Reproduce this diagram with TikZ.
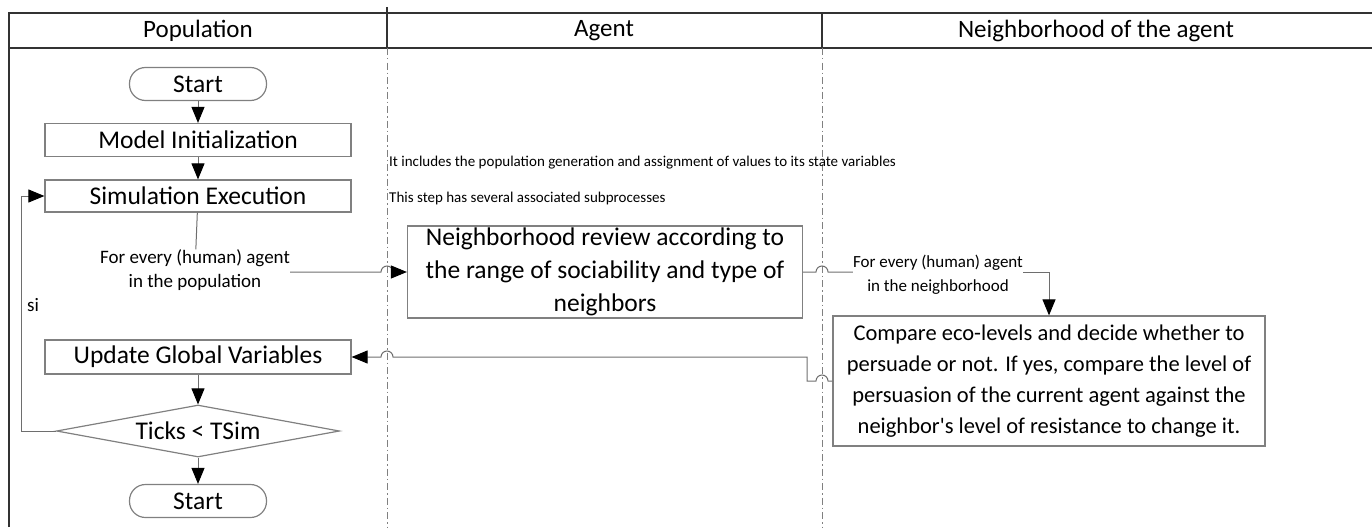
\documentclass[tikz,border=0pt]{standalone}
\usepackage{fontspec}
\setmainfont{Carlito}
\usetikzlibrary{shapes.geometric,arrows.meta}
\definecolor{boxgray}{RGB}{128,128,128}
\definecolor{linegray}{RGB}{110,110,110}
\definecolor{framegray}{RGB}{50,50,50}

\begin{document}
\begin{tikzpicture}[x=1pt,y=-1pt,
	frame/.style={draw=framegray,line width=1.8pt},
	divider/.style={draw=boxgray,line width=0.8pt,dash pattern=on 7pt off 3pt on 1.5pt off 3pt},
	lanehead/.style={font=\fontsize{25}{30}\selectfont},
	box/.style={draw=boxgray,line width=1.2pt,align=center,inner sep=2pt,font=\fontsize{25.5}{33}\selectfont},
	term/.style={box,rounded corners=16pt,minimum width=137pt,minimum height=33pt},
	note/.style={anchor=west,inner sep=0pt,font=\fontsize{15}{18}\selectfont},
	flow/.style={draw=linegray,line width=1pt,-{Triangle[length=16pt,width=13pt,color=black]}},
	hop/.style={insert path={arc[start angle=180,end angle=0,radius=6pt]}},
	hopleft/.style={insert path={arc[start angle=0,end angle=180,radius=6pt]}}]
\useasboundingbox (0,0) rectangle (1372,527);

%lanes
\draw[frame] (9,527) -- (9,13) -- (1372,13);
\draw[frame] (9,48) -- (1372,48);
\draw[frame] (387,7) -- (387,48);
\draw[frame] (822,13) -- (822,48);
\draw[divider] (387,48) -- (387,527);
\draw[divider] (822,48) -- (822,527);
\node[lanehead] (hpop) at (198,31) {Population};
\node[lanehead] (hagent) at (604,31) {Agent};
\node[lanehead] (hnb) at (1096,31) {Neighborhood of the agent};

%population lane
\node[term] (start) at (198,84) {Start};
\node[box,minimum width=306pt,minimum height=33pt] (init) at (198,140) {Model Initialization};
\node[box,minimum width=306pt,minimum height=32pt] (sim) at (198,196) {Simulation Execution};
\node[align=center,inner sep=0pt,font=\fontsize{19}{24}\selectfont] (forpop) at (195,270) {For every (human) agent\\in the population};
\node[box,minimum width=306pt,minimum height=34pt] (update) at (198,357) {Update Global Variables};
\node[box,diamond,aspect=5.4,minimum width=283pt,minimum height=52pt,inner sep=0pt] (ticks) at (198,431) {Ticks < TSim};
\node[term] (stop) at (198,501) {Start};
\node[inner sep=0pt,font=\fontsize{19}{24}\selectfont] (si) at (33,305) {si};

%notes
\node[note] (noteinit) at (389,163) {It includes the population generation and assignment of values to its state variables};
\node[note] (notesim) at (389,198) {This step has several associated subprocesses};

%agent and neighborhood lanes
\node[box,minimum width=395pt,minimum height=92pt] (review) at (605,272) {Neighborhood review according to\\the range of sociability and type of\\neighbors};
\node[align=center,inner sep=0pt,font=\fontsize{17}{24}\selectfont] (fornb) at (938,275) {For every (human) agent\\in the neighborhood};
\node[box,minimum width=432pt,minimum height=130pt,font=\fontsize{22.5}{31}\selectfont] (compare) at (1049,381) {Compare eco-levels and decide whether to\\persuade or not. If yes, compare the level of\\persuasion of the current agent against the\\neighbor\textquotesingle s level of resistance to change it.};

%connectors
\draw[flow] (start) -- (init);
\draw[flow] (init) -- (sim);
\draw[draw=linegray,line width=1pt] (sim) -- (forpop);
\draw[flow] (forpop.east |- review.west) -- (381,272) [hop] -- (review.west);
\draw[draw=linegray,line width=1pt] (review.east) -- (816,272) [hop] -- (fornb.west |- review.east);
\draw[flow] (fornb.east |- review.east) -| (compare.north);
\draw[flow] (compare.west) -- (828,381) [hopleft] -- (807,381) -- (807,357) -- (393,357) [hopleft] -- (update.east);
\draw[flow] (update) -- (ticks);
\draw[flow] (ticks) -- (stop);
\draw[flow] (ticks.west) -- (21,431) -- (21,196) -- (sim.west);
\end{tikzpicture}
\end{document}
